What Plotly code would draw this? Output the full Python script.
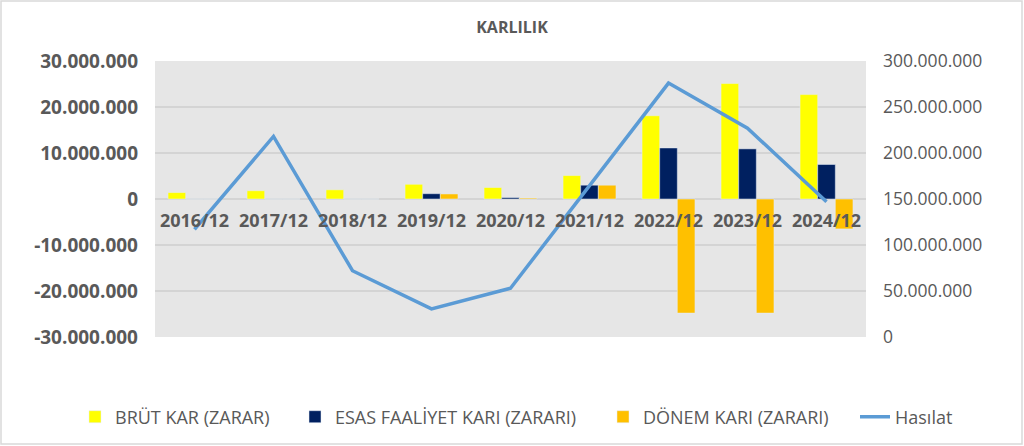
import plotly.graph_objects as go

categories = ["2016/12", "2017/12", "2018/12", "2019/12", "2020/12", "2021/12", "2022/12", "2023/12", "2024/12"]
brut_kar = [1400000, 1800000, 2000000, 3200000, 2500000, 5100000, 18100000, 25100000, 22700000]
esas_faaliyet = [0, 0, 0, 1150000, 300000, 3000000, 11100000, 10900000, 7500000]
donem_kari = [0, 0, 0, 1100000, 200000, 3000000, -24800000, -24800000, -6500000]
hasilat = [117000000, 218000000, 72000000, 30500000, 53000000, 164000000, 276000000, 227000000, 147000000]

left_ticks = [-30000000, -20000000, -10000000, 0, 10000000, 20000000, 30000000]
left_labels = ["-30.000.000", "-20.000.000", "-10.000.000", "0", "10.000.000", "20.000.000", "30.000.000"]
right_ticks = [0, 50000000, 100000000, 150000000, 200000000, 250000000, 300000000]
right_labels = ["0", "50.000.000", "100.000.000", "150.000.000", "200.000.000", "250.000.000", "300.000.000"]

grey = "#595959"
fig = go.Figure()
fig.add_trace(go.Bar(x=categories, y=brut_kar, name="BRÜT KAR (ZARAR)", marker_color="#FFFF00",
                     legend="legend", showlegend=True))
fig.add_trace(go.Bar(x=categories, y=esas_faaliyet, name="ESAS FAALİYET KARI (ZARARI)", marker_color="#002060",
                     legend="legend2", showlegend=True))
fig.add_trace(go.Bar(x=categories, y=donem_kari, name="DÖNEM KARI (ZARARI)", marker_color="#FFC000",
                     legend="legend3", showlegend=True))
fig.add_trace(go.Scatter(x=categories, y=hasilat, name="Hasılat", mode="lines",
                         line=dict(color="#5B9BD5", width=3.5), yaxis="y2", legend="legend4", showlegend=True))

legend_font = dict(family="Open Sans", size=18, color=grey)


def leg(xpx):
    return dict(orientation="h", xref="container", yref="container", x=xpx / 1024, xanchor="left",
                y=1 - 417 / 446, yanchor="middle", font=legend_font, bgcolor="rgba(0,0,0,0)")


fig.update_layout(
    width=1024, height=446,
    showlegend=True,
    margin=dict(l=155, r=158, t=61, b=109, autoexpand=False),
    paper_bgcolor="white", plot_bgcolor="#E6E6E6",
    barmode="group", bargap=0.33, bargroupgap=0,
    title=dict(text="<b>KARLILIK</b>", x=0.5, xanchor="center", y=0.939, yanchor="middle",
               font=dict(family="Open Sans", size=16, color=grey)),
    font=dict(family="Open Sans", color=grey),
    xaxis=dict(type="category", anchor="free", position=0.5, showgrid=False, showline=False,
               automargin=False, ticks="", ticklabelstandoff=9,
               tickfont=dict(family="Open Sans", size=18, color=grey, weight="bold")),
    yaxis=dict(range=[-30000000, 30000000], tickvals=left_ticks, ticktext=left_labels,
               showgrid=True, gridcolor="#D4D4D4", gridwidth=1.5, zeroline=False, automargin=False,
               tickfont=dict(family="Open Sans", size=19, color=grey, weight="bold"), ticks="",
               ticklabelstandoff=16),
    yaxis2=dict(range=[0, 300000000], tickvals=right_ticks, ticktext=right_labels,
                overlaying="y", side="right", showgrid=False, zeroline=False, automargin=False,
                tickfont=dict(family="Open Sans", size=17.5, color=grey), ticks="",
                ticklabelstandoff=16),
    legend=leg(75), legend2=leg(295), legend3=leg(603), legend4=leg(855),
    shapes=[dict(type="rect", xref="paper", yref="paper",
                 x0=-154 / 711, x1=1 + 156 / 711, y0=-107 / 276, y1=1 + 60 / 276,
                 line=dict(color="#D9D9D9", width=1.5), fillcolor="rgba(0,0,0,0)", layer="below")],
)

fig.write_html("out.html", config={"displayModeBar": False},
               post_script="document.body.style.margin='0';document.body.style.padding='0';")
